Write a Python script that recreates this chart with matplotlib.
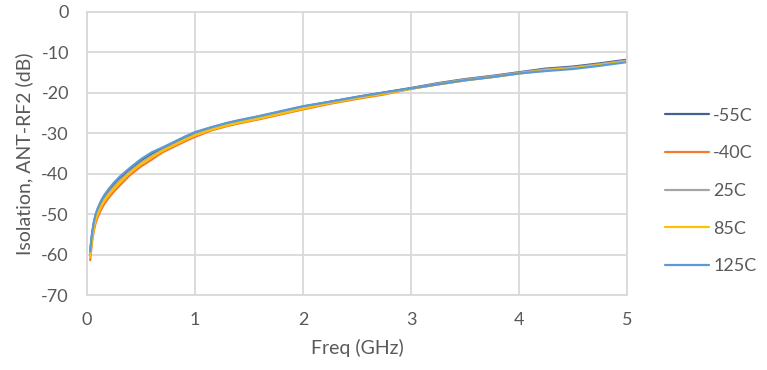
import matplotlib
matplotlib.use("Agg")
import matplotlib.pyplot as plt

freq = [0.03, 0.04, 0.05, 0.065, 0.08, 0.1, 0.13, 0.16, 0.2, 0.25, 0.3, 0.4, 0.5, 0.6,
        0.7, 0.8, 0.9, 1.0, 1.15, 1.3, 1.4, 1.6, 1.8, 2.0, 2.25, 2.5, 2.75, 3.0, 3.25,
        3.5, 3.75, 4.0, 4.25, 4.5, 4.75, 5.0]

iso_m55 = [-59.5, -56.5, -54.4, -52.0, -50.3, -48.8, -47.0, -45.6, -44.1, -42.5, -41.1,
           -38.8, -36.7, -35.0, -33.7, -32.4, -31.1, -29.9, -28.6, -27.5, -26.9, -25.8,
           -24.6, -23.4, -22.2, -21.0, -19.9, -18.8, -17.6, -16.6, -15.8, -14.9, -14.0,
           -13.5, -12.7, -11.8]
iso_m40 = [-61.4, -58.4, -56.3, -53.9, -52.2, -50.7, -48.9, -47.5, -46.0, -44.4, -43.0,
           -40.3, -38.2, -36.5, -34.7, -33.4, -32.1, -30.9, -29.3, -28.2, -27.6, -26.5,
           -25.3, -24.1, -22.7, -21.5, -20.4, -19.0, -17.9, -16.9, -16.1, -15.2, -14.3,
           -13.8, -13.0, -12.1]
iso_25 = [-60.2, -57.2, -55.1, -52.7, -51.0, -49.5, -47.7, -46.3, -44.8, -43.2, -41.8,
          -39.4, -37.3, -35.6, -34.1, -32.8, -31.5, -30.3, -28.9, -27.8, -27.2, -26.1,
          -24.9, -23.7, -22.4, -21.2, -20.1, -18.9, -17.7, -16.7, -15.9, -15.0, -14.2,
          -13.7, -12.9, -12.0]
iso_85 = [-60.6, -57.6, -55.5, -53.1, -51.4, -49.9, -48.1, -46.7, -45.2, -43.6, -42.2,
          -39.7, -37.6, -35.9, -34.3, -33.0, -31.7, -30.5, -29.1, -28.0, -27.4, -26.3,
          -25.1, -23.9, -22.5, -21.3, -20.2, -19.0, -17.9, -16.9, -16.1, -15.2, -14.4,
          -13.9, -13.1, -12.2]
iso_125 = [-59.2, -56.2, -54.1, -51.7, -50.0, -48.5, -46.7, -45.3, -43.8, -42.2, -40.8,
           -38.5, -36.4, -34.7, -33.5, -32.2, -30.9, -29.7, -28.5, -27.4, -26.8, -25.7,
           -24.5, -23.3, -22.2, -21.0, -19.9, -18.9, -17.9, -16.9, -16.1, -15.2, -14.6,
           -14.1, -13.3, -12.4]

labels = ["-55C", "-40C", "25C", "85C", "125C"]
series = [iso_m55, iso_m40, iso_25, iso_85, iso_125]
colors = ["#44628F", "#ED7D31", "#A5A5A5", "#FFC000", "#5B9BD5"]

xticks = [0, 1, 2, 3, 4, 5]
yticks = [0, -10, -20, -30, -40, -50, -60, -70]

plt.rcParams["font.family"] = ["Lato", "DejaVu Sans"]
plt.rcParams["axes.unicode_minus"] = False
txt = "#595959"
gridc = "#D9D9D9"

fig = plt.figure(figsize=(7.67, 3.70), dpi=100)
ax = fig.add_axes([87 / 767, 1 - 295 / 370, 540 / 767, 283 / 370])

for lab, ys, c in zip(labels, series, colors):
    ax.plot(freq, ys, color=c, lw=1.6, label=lab, solid_capstyle="round")

ax.set_xlim(0, 5)
ax.set_ylim(-70, 0)
ax.set_xticks(xticks)
ax.set_yticks(yticks)
ax.grid(True, color=gridc, lw=1.3)
ax.set_axisbelow(True)
for s in ax.spines.values():
    s.set_color(gridc)
    s.set_linewidth(1.3)
ax.tick_params(length=0, labelsize=13, colors=txt)
ax.tick_params(axis="y", pad=13)
ax.tick_params(axis="x", pad=12)

ax.set_xlabel("Freq (GHz)", fontsize=14, color=txt, labelpad=8)
ax.set_ylabel("Isolation, ANT-RF2 (dB)", fontsize=14, color=txt, labelpad=6)

leg = ax.legend(loc="center left", bbox_to_anchor=(658 / 767, 1 - 191 / 370),
                bbox_transform=fig.transFigure, frameon=False, fontsize=13,
                handlelength=2.4, labelspacing=1.2, handletextpad=0.25,
                borderaxespad=0)
for t in leg.get_texts():
    t.set_color(txt)

fig.savefig("out.png", dpi=100)
